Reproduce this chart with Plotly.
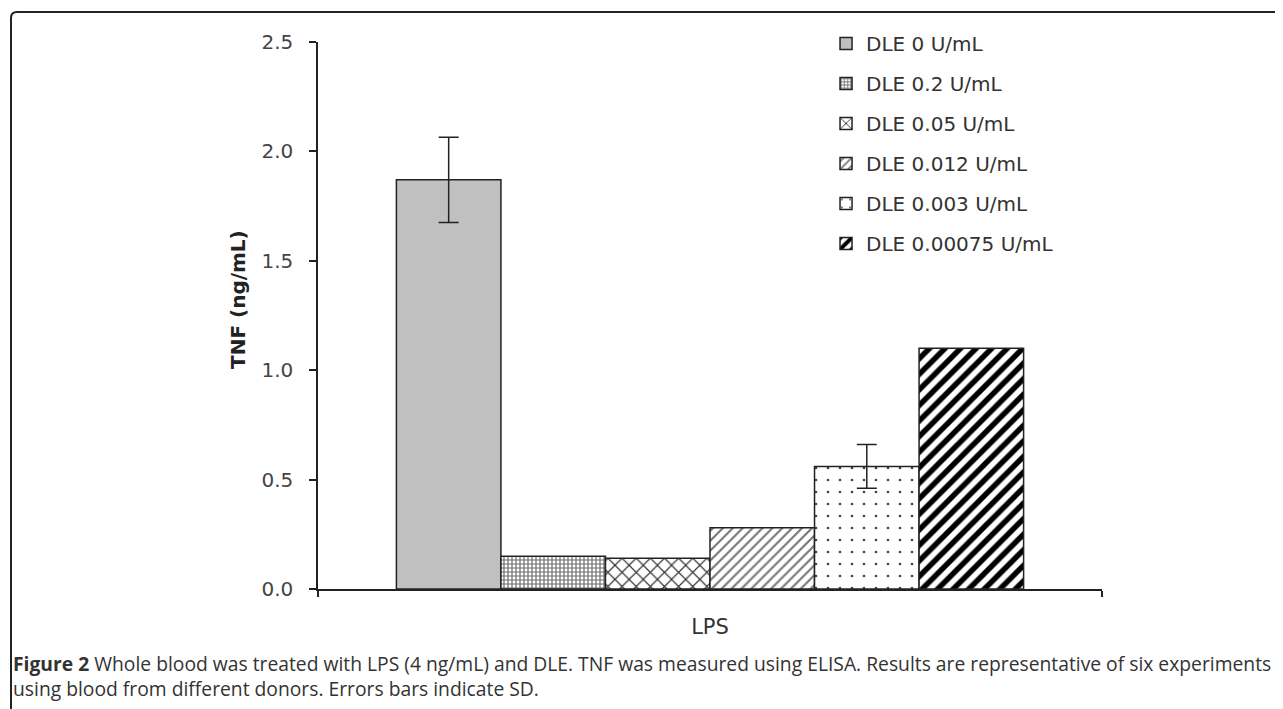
import plotly.graph_objects as go

categories = ["LPS"]
series_names = ["DLE 0 U/mL", "DLE 0.2 U/mL", "DLE 0.05 U/mL", "DLE 0.012 U/mL",
                "DLE 0.003 U/mL", "DLE 0.00075 U/mL"]
values = [1.87, 0.15, 0.14, 0.28, 0.56, 1.10]
errors = [0.195, None, None, None, 0.10, None]
y_ticks = [0, 0.5, 1.0, 1.5, 2.0, 2.5]
y_ticktext = ["0.0", "0.5", "1.0", "1.5", "2.0", "2.5"]

styles = [
    dict(color="#c0c0c0", pattern=dict(shape="")),
    dict(color="white", pattern=dict(shape="+", size=4, solidity=0.5, fgcolor="#6a6a6a", fgopacity=1)),
    dict(color="white", pattern=dict(shape="x", size=10, solidity=0.22, fgcolor="#333333", fgopacity=1)),
    dict(color="white", pattern=dict(shape="/", size=7, solidity=0.3, fgcolor="#777777", fgopacity=1)),
    dict(color="white", pattern=dict(shape=".", size=12, solidity=0.04, fgcolor="#444444", fgopacity=1)),
    dict(color="white", pattern=dict(shape="/", size=11, solidity=0.5, fgcolor="#000000", fgopacity=1)),
]

fig = go.Figure()
for i, name in enumerate(series_names):
    err = None
    if errors[i] is not None:
        err = dict(type="data", array=[errors[i]], visible=True, color="#222222",
                   thickness=1.5, width=10)
    fig.add_trace(go.Bar(
        x=categories, y=[values[i]], name=name, legendgroup=name,
        marker=dict(color=styles[i]["color"], pattern=styles[i]["pattern"],
                    line=dict(color="#222222", width=1.5)),
        error_y=err,
    ))

# page is offset by the 8px body margin
W, H = 1275, 701
L, R, T, B = 310, 1094, 34, 581

fig.update_layout(
    width=W, height=H,
    margin=dict(l=L, r=W - R, t=T, b=H - B, autoexpand=False),
    barmode="group", bargap=0.2, bargroupgap=0,
    plot_bgcolor="white", paper_bgcolor="white",
    font=dict(family="DejaVu Sans", size=19, color="#444444"),
    showlegend=True,
    legend=dict(x=0.648, y=1.033, xanchor="left", yanchor="top",
                font=dict(family="DejaVu Sans", size=20, color="#333333"), tracegroupgap=11,
                bgcolor="rgba(0,0,0,0)", itemwidth=30),
    xaxis=dict(showline=True, linecolor="#222222", linewidth=1.5, ticks="outside",
               tickson="boundaries", ticklen=6, tickcolor="#222222", tickwidth=1.5,
               showgrid=False, ticklabelstandoff=18,
               tickfont=dict(family="DejaVu Sans", size=21, color="#333333")),
    yaxis=dict(range=[0, 2.5], tickvals=y_ticks, ticktext=y_ticktext,
               showline=True, linecolor="#222222", linewidth=1.5, ticks="outside",
               ticklen=7, tickcolor="#222222", tickwidth=1.5, showgrid=False,
               zeroline=False, ticklabelstandoff=12,
               tickfont=dict(family="DejaVu Sans", size=20, color="#444444")),
)

def px(x):
    return (x - L) / (R - L)

def py(y):
    return (B - y) / (B - T)

# y-axis title
fig.add_annotation(xref="paper", yref="paper", x=px(216), y=py(292), textangle=-90,
                   showarrow=False, text="<b>TNF (ng/mL)</b>",
                   font=dict(family="DejaVu Sans", size=20, color="#222222"))

# Frame around the figure (top and left with rounded corner)
fig.add_shape(type="path", xref="paper", yref="paper",
              path=f"M {px(3)} {py(720)} L {px(3)} {py(10)} Q {px(3)} {py(4)} {px(9)} {py(4)} L {px(1290)} {py(4)}",
              line=dict(color="#222222", width=2))

fig.add_annotation(
    xref="paper", yref="paper", x=px(3), y=py(640), xanchor="left", yanchor="top",
    align="left", showarrow=False,
    text=("<b>Figure 2</b> Whole blood was treated with LPS (4 ng/mL) and DLE. TNF was measured using ELISA. "
          "Results are representative of six experiments<br>using blood from different donors. Errors bars indicate SD."),
    font=dict(family="Open Sans", size=19.3, color="#333333"),
)

fig.write_html("out.html")
